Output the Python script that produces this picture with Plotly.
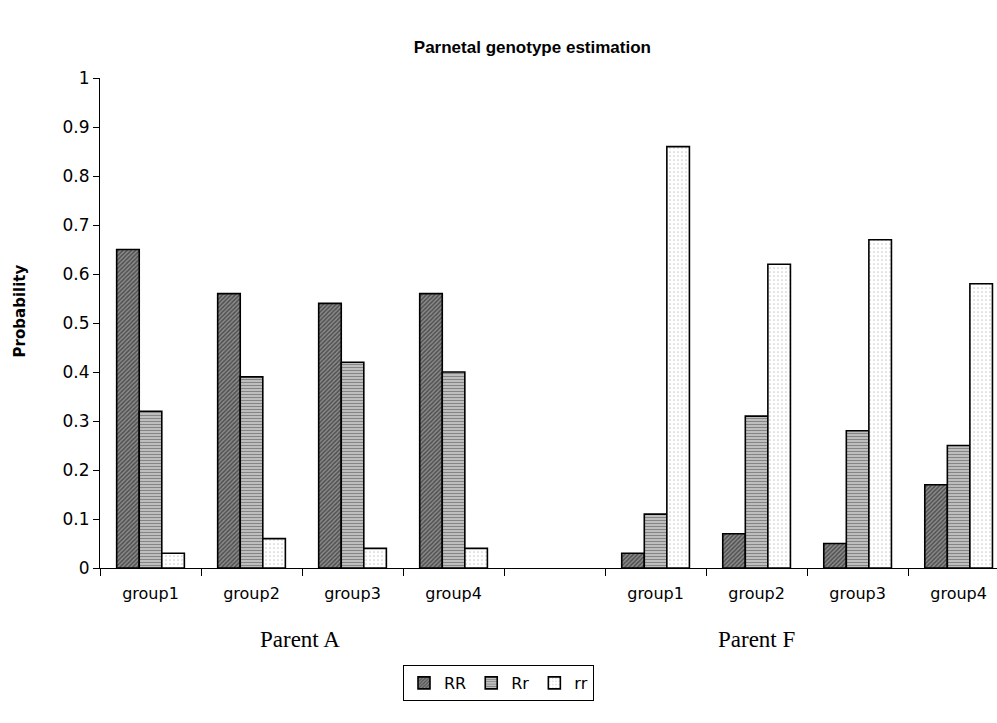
import plotly.graph_objects as go

# category slots: four Parent A groups, an empty spacer, four Parent F groups
slot_ids = ["A1", "A2", "A3", "A4", "gap", "F1", "F2", "F3", "F4"]
slot_labels = ["group1", "group2", "group3", "group4", "", "group1", "group2", "group3", "group4"]

genotypes = ["RR", "Rr", "rr"]
rr_dom = [0.65, 0.56, 0.54, 0.56, None, 0.03, 0.07, 0.05, 0.17]
rr_het = [0.32, 0.39, 0.42, 0.40, None, 0.11, 0.31, 0.28, 0.25]
rr_rec = [0.03, 0.06, 0.04, 0.04, None, 0.86, 0.62, 0.67, 0.58]

y_ticks = [0, 0.1, 0.2, 0.3, 0.4, 0.5, 0.6, 0.7, 0.8, 0.9, 1]
y_tick_text = ["0", "0.1", "0.2", "0.3", "0.4", "0.5", "0.6", "0.7", "0.8", "0.9", "1"]

patterns = [
    dict(shape="/", fgcolor="#111111", bgcolor="#8c8c8c", size=3, solidity=0.5),
    dict(shape="-", fgcolor="#3a3a3a", bgcolor="#d0d0d0", size=3, solidity=0.5),
    dict(shape=".", fgcolor="#9a9a9a", bgcolor="#ffffff", size=4, solidity=0.15),
]
fills = ["#666666", "#999999", "#f4f4f4"]

fig = go.Figure()
for name, vals, pat, fill in zip(genotypes, [rr_dom, rr_het, rr_rec], patterns, fills):
    fig.add_trace(go.Bar(
        name=name,
        x=slot_ids,
        y=vals,
        marker=dict(color=fill, pattern=pat, line=dict(color="black", width=1.6)),
    ))

sans = "DejaVu Sans, Arial, sans-serif"
arial = "Liberation Sans, Arial, sans-serif"
serif = "Liberation Serif, Times New Roman, serif"

fig.update_layout(
    width=997,
    height=723,
    margin=dict(l=100, r=0, t=78, b=155),
    paper_bgcolor="white",
    plot_bgcolor="white",
    barmode="group",
    bargap=0.33,
    bargroupgap=0,
    font=dict(family=sans, size=16, color="black"),
    title=dict(
        text="<b>Parnetal genotype estimation</b>",
        font=dict(family=arial, size=17, color="black"),
        xref="container", x=0.534, xanchor="center",
        yref="container", y=1 - 47 / 723, yanchor="middle",
    ),
    xaxis=dict(
        type="category",
        categoryorder="array",
        categoryarray=slot_ids,
        tickmode="array",
        tickvals=slot_ids,
        ticktext=slot_labels,
        tickson="boundaries",
        ticks="outside",
        ticklen=7,
        tickcolor="black",
        ticklabelstandoff=11,
        showline=True,
        linecolor="black",
        linewidth=1,
        showgrid=False,
        range=[-0.5, 8.38],
        tickfont=dict(family=sans, size=16, color="black"),
    ),
    yaxis=dict(
        range=[0, 1],
        tickmode="array",
        tickvals=y_ticks,
        ticktext=y_tick_text,
        ticks="outside",
        ticklen=6,
        tickcolor="black",
        showline=True,
        linecolor="black",
        linewidth=1,
        showgrid=False,
        zeroline=False,
        tickfont=dict(family=sans, size=17, color="black"),
    ),
    legend=dict(
        orientation="h",
        xref="container", x=0.5, xanchor="center",
        yref="container", y=1 - 683 / 723, yanchor="middle",
        bordercolor="black",
        borderwidth=1,
        font=dict(family=sans, size=16, color="black"),
        itemwidth=30,
        tracegroupgap=0,
    ),
    annotations=[
        dict(text="<b>Probability</b>", xref="paper", yref="paper",
             x=-80 / 897, y=(563 - 309) / 485, textangle=-90, showarrow=False,
             xanchor="center", yanchor="middle",
             font=dict(family=sans, size=15, color="black")),
        dict(text="Parent A", xref="paper", yref="paper",
             x=200 / 897, y=(568 - 639) / 490, showarrow=False,
             xanchor="center", yanchor="middle",
             font=dict(family=serif, size=23, color="black")),
        dict(text="Parent F", xref="paper", yref="paper",
             x=656 / 897, y=(568 - 639) / 490, showarrow=False,
             xanchor="center", yanchor="middle",
             font=dict(family=serif, size=23, color="black")),
    ],
)

fig.write_html("out.html")
